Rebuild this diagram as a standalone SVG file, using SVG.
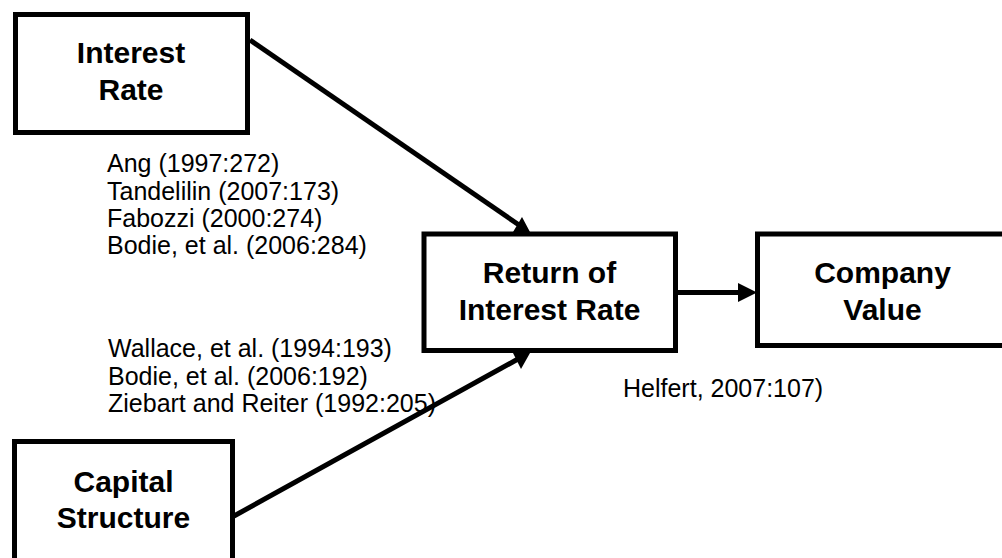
<svg xmlns="http://www.w3.org/2000/svg" width="1002" height="558" viewBox="0 0 1002 558">
<style>
.box{fill:#fff;stroke:#000;stroke-width:5}
.t{font-family:"Liberation Sans",Arial,sans-serif;font-weight:bold;font-size:30px;text-anchor:middle;fill:#000}
.c{font-family:"Liberation Sans",Arial,sans-serif;font-size:25px;fill:#000}
.ln{stroke:#000;stroke-width:5;fill:none}
</style>
<rect width="1002" height="558" fill="#fff"/>
<g id="connectors">
<line class="ln" x1="250" y1="40" x2="519" y2="225"/>
<line class="ln" x1="234" y1="516" x2="518" y2="359"/>
<line class="ln" x1="677" y1="292.5" x2="740" y2="292.5" stroke-width="6"/>
<polygon points="738,283 757,292.5 738,302" fill="#000"/>
</g>
<g id="interest-rate">
<rect class="box" x="15.5" y="14.5" width="232" height="118"/>
<text class="t" x="131" y="63">Interest</text>
<text class="t" x="131" y="100">Rate</text>
</g>
<g id="return-of-interest-rate">
<rect class="box" x="424" y="234" width="251.5" height="116.5"/>
<text class="t" x="549.5" y="283">Return of</text>
<text class="t" x="549.5" y="320">Interest Rate</text>
<polygon points="513,232 530,232 522,217" fill="#000"/>
<polygon points="513,353 530,353 521,369" fill="#000"/>
</g>
<g id="company-value">
<rect class="box" x="757.5" y="234" width="260" height="111.5"/>
<text class="t" x="882.5" y="283">Company</text>
<text class="t" x="882.5" y="320">Value</text>
</g>
<g id="capital-structure">
<rect class="box" x="14.5" y="441.5" width="218" height="130"/>
<text class="t" x="123.5" y="492">Capital</text>
<text class="t" x="123.5" y="528">Structure</text>
</g>
<g id="citations-top">
<text class="c" x="107" y="172">Ang (1997:272)</text>
<text class="c" x="107" y="200">Tandelilin (2007:173)</text>
<text class="c" x="107" y="227">Fabozzi (2000:274)</text>
<text class="c" x="107" y="254">Bodie, et al. (2006:284)</text>
</g>
<g id="citations-bottom">
<text class="c" x="108" y="357">Wallace, et al. (1994:193)</text>
<text class="c" x="108" y="385">Bodie, et al. (2006:192)</text>
<text class="c" x="108" y="412">Ziebart and Reiter (1992:205)</text>
</g>
<g id="citation-right">
<text class="c" x="623" y="397">Helfert, 2007:107)</text>
</g>
</svg>
